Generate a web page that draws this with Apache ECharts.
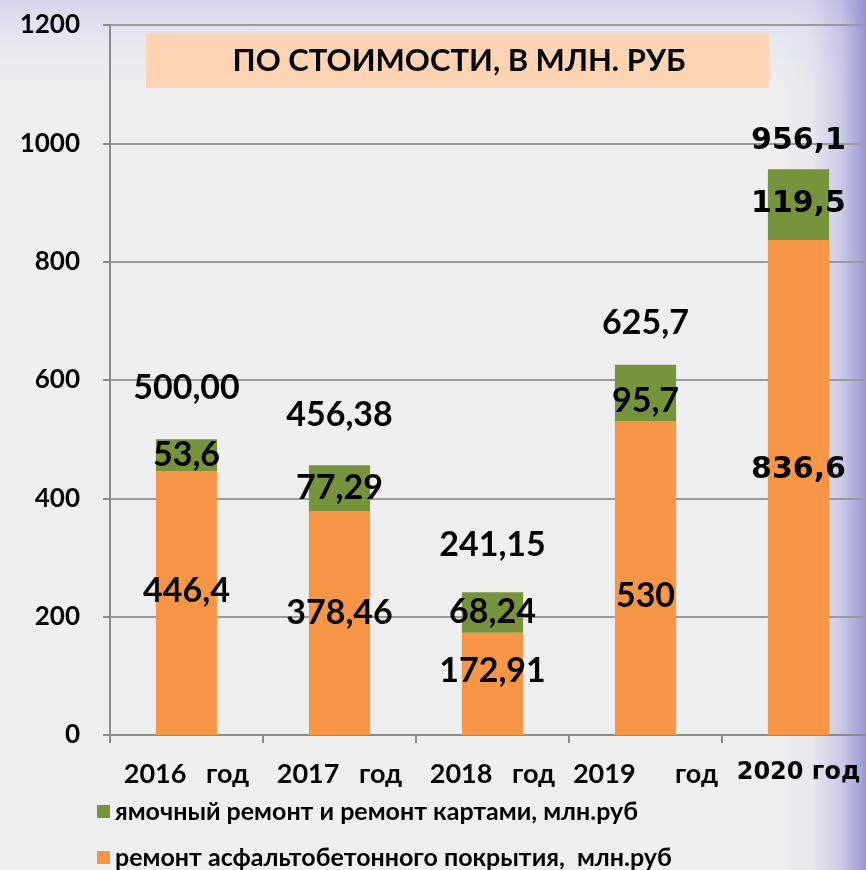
<!DOCTYPE html>
<html>
<head>
<meta charset="utf-8">
<script src="https://cdn.jsdelivr.net/npm/echarts@6/dist/echarts.min.js"></script>
<style>
html,body{margin:0;padding:0;width:866px;height:870px;overflow:hidden;}
body{
  background:
    linear-gradient(to left, rgba(130,130,205,0.8) 0px, rgba(160,160,220,0.45) 25px, rgba(200,200,235,0.18) 55px, rgba(239,239,239,0) 85px),
    linear-gradient(to bottom, #d6d6ec 0px, #e6e6f1 35px, #efefef 90px, #efefef 100%);
}
#chart{width:866px;height:870px;}
</style>
</head>
<body>
<div id="chart"></div>
<script>
const categories = ['2016   год', '2017   год', '2018   год', '2019      год', '2020 год'];
const asphaltRepair = [446.4, 378.46, 172.91, 530, 836.6];
const patchRepair = [53.6, 77.29, 68.24, 95.7, 119.5];
const totals = [500.00, 456.38, 241.15, 625.7, 956.1];
const totalLabels = ['500,00', '456,38', '241,15', '625,7', '956,1'];
const asphaltLabels = ['446,4', '378,46', '172,91', '530', '836,6'];
const patchLabels = ['53,6', '77,29', '68,24', '95,7', '119,5'];
const seriesNames = ['ямочный ремонт и ремонт картами, млн.руб', 'ремонт асфальтобетонного покрытия,  млн.руб'];
const titleText = 'ПО СТОИМОСТИ, В МЛН. РУБ';

const LATO = 'Lato';
const DEJAVU = 'DejaVu Sans';
const orangeOffsets = [-12, -10, -13, 18, -17];
const greenOffsets = [0, 0, 0, 8, 0];
const totalOffsets = [-51, -50, -47, -42, -28];

function fontFor(i){ return i === 4 ? DEJAVU : LATO; }

function labelRich(texts){
  return {
    show: true, position: 'inside', color: '#000', opacity: 1,
    formatter: p => (p.dataIndex === 4 ? '{d|' : '{l|') + texts[p.dataIndex] + '}',
    rich: {
      l: {fontFamily: LATO, fontSize: 34, fontWeight: 'bold', color: '#000'},
      d: {fontFamily: DEJAVU, fontSize: 30, fontWeight: 'bold', color: '#000'}
    }
  };
}

const chart = echarts.init(document.getElementById('chart'));
chart.setOption({
  backgroundColor: 'transparent',
  animation: false,
  grid: {left: 110, width: 765, top: 25, bottom: 135, outerBoundsMode: 'none', containLabel: false},
  graphic: [
    {type: 'rect', shape: {x: 146, y: 33, width: 623, height: 55}, style: {fill: '#fdd5b4'}, z: 10},
    {type: 'text', x: 459, y: 61, z: 11, style: {text: titleText, textAlign: 'center', textVerticalAlign: 'middle',
      font: 'bold 31px Lato', fill: '#000'}}
  ],
  legend: [
    {left: 97, top: 799, itemWidth: 13, itemHeight: 13, icon: 'rect', data: [seriesNames[0]], padding: 0,
     textStyle: {fontFamily: LATO, fontWeight: 'bold', fontSize: 25, color: '#000'}},
    {left: 97, top: 845, itemWidth: 13, itemHeight: 13, icon: 'rect', data: [seriesNames[1]], padding: 0,
     textStyle: {fontFamily: LATO, fontWeight: 'bold', fontSize: 25, color: '#000'}}
  ],
  xAxis: {
    type: 'category',
    data: categories.map((c, i) => ({value: c, textStyle: {fontFamily: fontFor(i), fontSize: i === 4 ? 24 : 27}})),
    axisLine: {lineStyle: {color: '#8c8c8c', width: 2}},
    axisTick: {show: true, length: 8, lineStyle: {color: '#8c8c8c', width: 2}},
    axisLabel: {margin: 26, color: '#000', fontWeight: 'bold', fontFamily: LATO, fontSize: 27, interval: 0, hideOverlap: false}
  },
  yAxis: {
    type: 'value', min: 0, max: 1200, interval: 200,
    axisLine: {show: true, lineStyle: {color: '#8c8c8c', width: 2}},
    axisTick: {show: true, length: 7, lineStyle: {color: '#8c8c8c', width: 2}},
    splitLine: {lineStyle: {color: '#9a9a9a', width: 2}},
    axisLabel: {margin: 30, color: '#000', fontWeight: 'bold', fontFamily: LATO, fontSize: 26, formatter: v => String(v)}
  },
  series: [
    {
      name: seriesNames[1], type: 'bar', stack: 'total', barWidth: '40%',
      itemStyle: {color: '#f79646'},
      label: labelRich(asphaltLabels),
      data: asphaltRepair.map((v, i) => ({value: v, label: {offset: [0, orangeOffsets[i]]}}))
    },
    {
      name: seriesNames[0], type: 'bar', stack: 'total', barWidth: '40%',
      itemStyle: {color: '#77933c'},
      label: labelRich(patchLabels),
      data: patchRepair.map((v, i) => ({value: v, label: {offset: [0, greenOffsets[i]]}}))
    },
    {
      name: 'Итого', type: 'line', symbol: 'circle', symbolSize: 1, silent: true, z: 5,
      lineStyle: {width: 0, opacity: 0},
      itemStyle: {color: 'rgba(0,0,0,0)', opacity: 1},
      label: labelRich(totalLabels),
      data: totals.map((v, i) => ({value: v, label: {offset: [0, totalOffsets[i]]}}))
    }
  ]
});
</script>
</body>
</html>
